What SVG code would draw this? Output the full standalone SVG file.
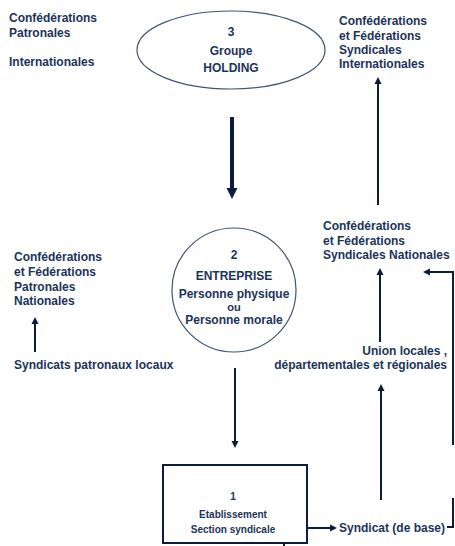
<svg xmlns="http://www.w3.org/2000/svg" width="455" height="546" viewBox="0 0 455 546">
<style>
text{font-family:"Liberation Sans",Arial,sans-serif;font-weight:bold;font-size:12px;fill:#1b3459}
.c{text-anchor:middle}
.r{text-anchor:end}
.s{font-size:10px}
.ou{font-size:11px}
.ln{stroke:#0b1c3d;stroke-width:2;fill:none}
.thick{stroke:#0b1c3d;stroke-width:4;fill:none}
.shape{fill:#fff;stroke:#3f5573;stroke-width:1.2}
.box{fill:#fff;stroke:#0b1c3d;stroke-width:2}
</style>
<defs>
<marker id="ah" viewBox="0 0 10 10" refX="0" refY="5" markerUnits="userSpaceOnUse" markerWidth="7" markerHeight="11" orient="auto">
<path d="M0,0 L10,5 L0,10 z" fill="#0b1c3d"/>
</marker>
<marker id="ahb" viewBox="0 0 10 10" refX="0" refY="5" markerUnits="userSpaceOnUse" markerWidth="11" markerHeight="22" orient="auto">
<path d="M0,0 L10,5 L0,10 z" fill="#0b1c3d"/>
</marker>
</defs>
<rect width="455" height="546" fill="#fff"/>

<g id="connectors">
<line class="thick" x1="232" y1="117" x2="232" y2="188" marker-end="url(#ahb)"/>
<line class="ln" x1="235" y1="368" x2="235" y2="441" marker-end="url(#ah)"/>
<line class="ln" x1="283" y1="528" x2="330" y2="528" marker-end="url(#ah)"/>
<line class="ln" x1="381" y1="500" x2="381" y2="391" marker-end="url(#ah)"/>
<line class="ln" x1="380" y1="342" x2="380" y2="275" marker-end="url(#ah)"/>
<line class="ln" x1="378" y1="205" x2="378" y2="84" marker-end="url(#ah)"/>
<line class="ln" x1="35" y1="352" x2="35" y2="324" marker-end="url(#ah)"/>
<polyline class="ln" points="447,527 453,527 453,498"/>
<polyline class="ln" points="453,445 453,272 430,272" marker-end="url(#ah)"/>
<line class="ln" x1="284" y1="543" x2="284" y2="546"/>
</g>

<g id="holding">
<ellipse class="shape" cx="231" cy="50" rx="94" ry="39"/>
<text class="c" x="231" y="36">3</text>
<text class="c" x="231" y="55">Groupe</text>
<text class="c" x="231" y="72">HOLDING</text>
</g>

<g id="entreprise">
<circle class="shape" cx="234" cy="290" r="62"/>
<text class="c" x="234" y="259">2</text>
<text class="c" x="234" y="280">ENTREPRISE</text>
<text class="c" x="234" y="298">Personne physique</text>
<text class="c ou" x="234" y="310.6">ou</text>
<text class="c" x="234" y="323.9">Personne morale</text>
</g>

<g id="etablissement">
<rect class="box" x="163" y="465" width="144" height="78"/>
<text class="c s" x="233" y="500">1</text>
<text class="c s" x="233" y="518">Etablissement</text>
<text class="c s" x="233" y="533">Section syndicale</text>
</g>

<g id="patronales-internationales">
<text x="9" y="22">Confédérations</text>
<text x="9" y="37">Patronales</text>
<text x="9" y="66">Internationales</text>
</g>

<g id="syndicales-internationales">
<text x="339" y="25">Confédérations</text>
<text x="339" y="40">et Fédérations</text>
<text x="339" y="54">Syndicales</text>
<text x="339" y="68">Internationales</text>
</g>

<g id="patronales-nationales">
<text x="14" y="261">Confédérations</text>
<text x="14" y="276">et Fédérations</text>
<text x="14" y="291">Patronales</text>
<text x="14" y="305">Nationales</text>
</g>

<g id="syndicats-patronaux">
<text x="14" y="369">Syndicats patronaux locaux</text>
</g>

<g id="syndicales-nationales">
<text x="323" y="230">Confédérations</text>
<text x="323" y="245">et Fédérations</text>
<text x="323" y="259">Syndicales Nationales</text>
</g>

<g id="unions">
<text class="r" x="447" y="355">Union locales ,</text>
<text class="r" x="447" y="369">départementales et régionales</text>
</g>

<g id="syndicat-base">
<text x="339" y="532">Syndicat (de base)</text>
</g>
</svg>
